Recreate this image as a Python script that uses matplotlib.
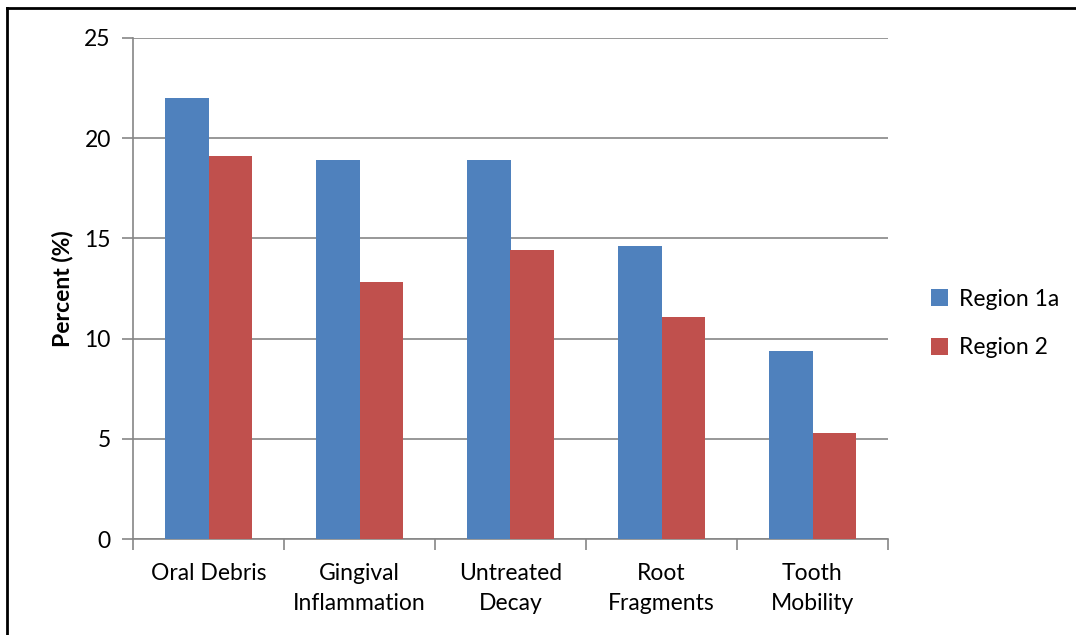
import numpy as np
import matplotlib.pyplot as plt
from matplotlib import lines

plt.rcParams['font.family'] = ['Lato', 'DejaVu Sans']

categories = ['Oral Debris', 'Gingival\nInflammation', 'Untreated\nDecay',
              'Root\nFragments', 'Tooth\nMobility']
region_1a = [22.0, 18.9, 18.9, 14.6, 9.4]
region_2 = [19.1, 12.8, 14.4, 11.1, 5.3]
series_names = ['Region 1a', 'Region 2']

blue = '#4f81bd'
red = '#c0504d'
grid_col = '#868686'

fig = plt.figure(figsize=(10.76, 6.35), dpi=100)
ax = fig.add_axes([133/1076, 1 - 539/635, (888-133)/1076, (539-38)/635])

x = np.arange(len(categories))
w = 0.2875
ax.bar(x - w/2, region_1a, w, color=blue, label=series_names[0], zorder=3)
ax.bar(x + w/2, region_2, w, color=red, label=series_names[1], zorder=3)

ax.set_xlim(-0.5, len(categories) - 0.5)
ax.set_ylim(0, 25)
ax.set_yticks(np.arange(0, 26, 5))
ax.yaxis.grid(True, color=grid_col, linewidth=1.2, zorder=0)

# category labels sit between the boundary ticks
ax.set_xticks(np.arange(-0.5, len(categories)), minor=False)
ax.set_xticklabels([])
ax.set_xticks(x, minor=True)
ax.set_xticklabels(categories, minor=True, fontsize=16.5, linespacing=1.55)
ax.tick_params(axis='x', which='minor', length=0, pad=17)
ax.tick_params(axis='x', which='major', length=8, color=grid_col, width=1.2)
ax.tick_params(axis='y', length=8, color=grid_col, width=1.2, labelsize=16.5, pad=8)

for key in ['top', 'right']:
    ax.spines[key].set_visible(False)
for key in ['left', 'bottom']:
    ax.spines[key].set_color(grid_col)
    ax.spines[key].set_linewidth(1.2)

ax.set_ylabel('Percent (%)', fontsize=16.5, fontweight='bold', labelpad=8)

ax.legend(loc='center left', bbox_to_anchor=(1.03, 0.43), frameon=False,
          fontsize=16.5, handlelength=0.75, handleheight=0.75,
          handletextpad=0.45, labelspacing=1.2)

# outer frame of the chart area
fig.add_artist(lines.Line2D([7/1076, 7/1076], [0, 1 - 8/635], color='black', linewidth=2))
fig.add_artist(lines.Line2D([7/1076, 1], [1 - 8/635, 1 - 8/635], color='black', linewidth=2))

fig.savefig('out.png', dpi=100)
